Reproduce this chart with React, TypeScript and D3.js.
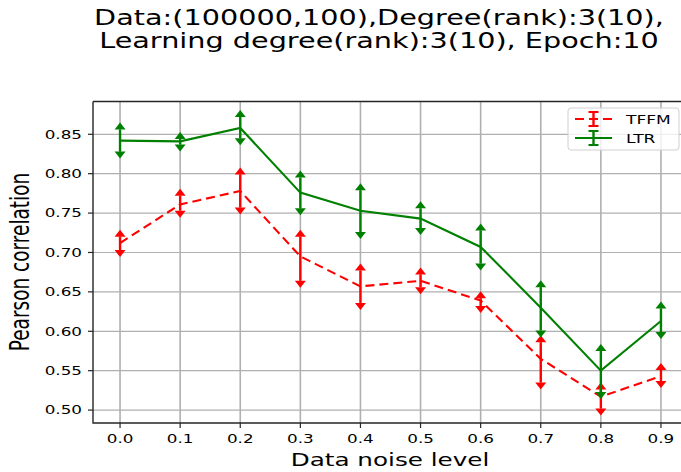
import * as d3 from "d3";

// noise levels on the x axis
const noise = [0.0, 0.1, 0.2, 0.3, 0.4, 0.5, 0.6, 0.7, 0.8, 0.9];
const xTicks = ["0.0", "0.1", "0.2", "0.3", "0.4", "0.5", "0.6", "0.7", "0.8", "0.9"];
const yTicks = [0.5, 0.55, 0.6, 0.65, 0.7, 0.75, 0.8, 0.85];

// TFFM (red, dashed)
const tffmMean = [0.712, 0.761, 0.778, 0.695, 0.657, 0.664, 0.639, 0.565, 0.517, 0.543];
const tffmHi = [0.72, 0.772, 0.799, 0.72, 0.677, 0.672, 0.642, 0.586, 0.526, 0.551];
const tffmLo = [0.703, 0.753, 0.757, 0.664, 0.636, 0.656, 0.632, 0.535, 0.502, 0.537];

// LTR (green, solid)
const ltrMean = [0.842, 0.841, 0.858, 0.776, 0.753, 0.743, 0.707, 0.63, 0.55, 0.613];
const ltrHi = [0.856, 0.844, 0.872, 0.795, 0.779, 0.756, 0.728, 0.656, 0.575, 0.629];
const ltrLo = [0.828, 0.837, 0.845, 0.756, 0.726, 0.731, 0.686, 0.601, 0.523, 0.599];

const W = 681;
const H = 472;
const M = { left: 93, top: 101.5, right: 688, bottom: 423 };
const SX = 1.4; // the figure is stretched sideways
const FONT = "DejaVu Sans, sans-serif";

const x = d3.scaleLinear().domain([-0.045, 0.945]).range([M.left, M.right]);
const y = d3.scaleLinear().domain([0.4836, 0.8916]).range([M.bottom, M.top]);

function SText(props: { x: number; y: number; size: number; anchor?: string; rotate?: boolean; children: string }) {
  const rot = props.rotate ? " rotate(-90)" : "";
  return (
    <text
      transform={`translate(${props.x},${props.y}) scale(${SX},1)${rot}`}
      fontSize={props.size}
      fontFamily={FONT}
      textAnchor={props.anchor ?? "middle"}
      fill="#000"
    >
      {props.children}
    </text>
  );
}

function Series({ mean, hi, lo, color, dashed }: { mean: number[]; hi: number[]; lo: number[]; color: string; dashed: boolean }) {
  const line = d3
    .line<number>()
    .x((_, i) => x(noise[i]))
    .y((d) => y(d));
  return (
    <g>
      <path d={line(mean) ?? ""} fill="none" stroke={color} strokeWidth={2.1} strokeDasharray={dashed ? "9,5" : undefined} />
      {noise.map((n, i) => {
        const cx = x(n);
        const yh = y(hi[i]);
        const yl = y(lo[i]);
        return (
          <g key={i}>
            <line x1={cx} x2={cx} y1={yh} y2={yl} stroke={color} strokeWidth={2.4} />
            <path d={`M${cx - 5.5},${yh}L${cx + 5.5},${yh}L${cx},${yh - 7}Z`} fill={color} />
            <path d={`M${cx - 5.5},${yl}L${cx + 5.5},${yl}L${cx},${yl + 7}Z`} fill={color} />
          </g>
        );
      })}
    </g>
  );
}

export default function App() {
  return (
    <svg width={W} height={H} style={{ position: "absolute", left: 0, top: 0, background: "#fff" }}>
      <rect width={W} height={H} fill="#fff" />
      {/* grid */}
      {noise.map((n) => (
        <line key={"gx" + n} x1={x(n)} x2={x(n)} y1={M.top} y2={M.bottom} stroke="#b0b0b0" strokeWidth={1.6} />
      ))}
      {yTicks.map((t) => (
        <line key={"gy" + t} x1={M.left} x2={M.right} y1={y(t)} y2={y(t)} stroke="#b0b0b0" strokeWidth={1.2} />
      ))}

      <Series mean={tffmMean} hi={tffmHi} lo={tffmLo} color="#ff0000" dashed />
      <Series mean={ltrMean} hi={ltrHi} lo={ltrLo} color="#008000" dashed={false} />

      {/* spines */}
      <path d={`M${M.left},${M.top}V${M.bottom}H${M.right}M${M.left},${M.top}H${M.right}`} fill="none" stroke="#262626" strokeWidth={1.4} />

      {/* x ticks */}
      {noise.map((n, i) => (
        <g key={"xt" + n}>
          <line x1={x(n)} x2={x(n)} y1={M.bottom} y2={M.bottom + 5} stroke="#262626" strokeWidth={1.2} />
          <SText x={x(n)} y={M.bottom + 20} size={12}>
            {xTicks[i]}
          </SText>
        </g>
      ))}
      {/* y ticks */}
      {yTicks.map((t) => (
        <g key={"yt" + t}>
          <line x1={M.left - 5} x2={M.left} y1={y(t)} y2={y(t)} stroke="#262626" strokeWidth={1.2} />
          <SText x={M.left - 11} y={y(t) + 4.4} size={12} anchor="end">
            {d3.format(".2f")(t)}
          </SText>
        </g>
      ))}

      {/* labels */}
      <SText x={390} y={466} size={17.6}>
        Data noise level
      </SText>
      <SText x={29} y={262} size={18.5} rotate>
        Pearson correlation
      </SText>
      <SText x={379} y={25} size={20.5}>
        Data:(100000,100),Degree(rank):3(10),
      </SText>
      <SText x={379} y={48} size={20.5}>
        Learning degree(rank):3(10), Epoch:10
      </SText>

      {/* legend */}
      <rect x={568} y={108} width={111} height={42} rx={3} fill="#fff" fillOpacity={0.8} stroke="#d0d0d0" strokeWidth={1} />
      <line x1={575} x2={612} y1={119} y2={119} stroke="#ff0000" strokeWidth={2} strokeDasharray="9,5" />
      <line x1={593.5} x2={593.5} y1={112} y2={126} stroke="#ff0000" strokeWidth={2.4} />
      <line x1={588.5} x2={598.5} y1={112} y2={112} stroke="#ff0000" strokeWidth={2} />
      <line x1={588.5} x2={598.5} y1={126} y2={126} stroke="#ff0000" strokeWidth={2} />
      <SText x={626} y={123.5} size={12.2} anchor="start">
        TFFM
      </SText>
      <line x1={575} x2={612} y1={138} y2={138} stroke="#008000" strokeWidth={2} />
      <line x1={593.5} x2={593.5} y1={131} y2={145} stroke="#008000" strokeWidth={2.4} />
      <line x1={588.5} x2={598.5} y1={131} y2={131} stroke="#008000" strokeWidth={2} />
      <line x1={588.5} x2={598.5} y1={145} y2={145} stroke="#008000" strokeWidth={2} />
      <SText x={626} y={142.5} size={12.2} anchor="start">
        LTR
      </SText>
    </svg>
  );
}
